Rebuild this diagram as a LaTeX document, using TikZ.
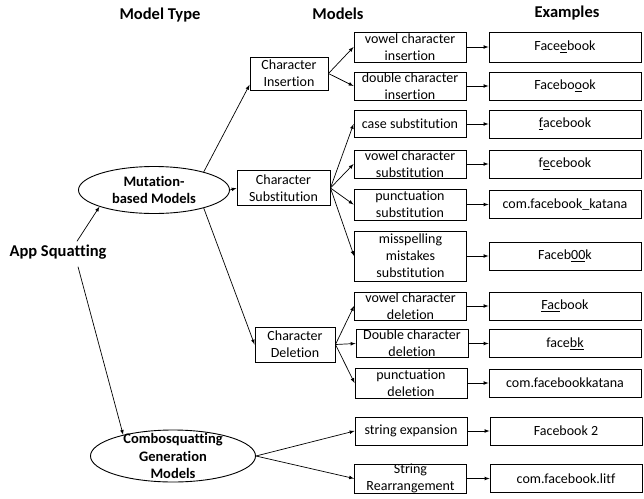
\documentclass[tikz,border=0pt]{standalone}
\usepackage{fontspec}
\setmainfont[Ligatures={NoCommon}]{Carlito}
\usepackage{tikz}
\usetikzlibrary{positioning, calc, shapes.geometric}

\begin{document}
\begin{tikzpicture}[x=1pt, y=-1pt,
	heading/.style={font=\fontsize{16.5}{19}\selectfont\bfseries},
	cell/.style={rectangle, draw, line width=0.9pt, align=center,
		font=\fontsize{14}{17}\selectfont, inner xsep=4pt, inner ysep=1pt},
	leaf/.style={cell, minimum width=112pt, minimum height=28pt},
	sample/.style={cell, minimum width=152pt, minimum height=28pt},
	group/.style={ellipse, draw, line width=0.9pt, inner sep=0pt},
	grouptext/.style={align=center, font=\fontsize{14.5}{17.5}\selectfont\bfseries},
	arr/.style={line width=0.7pt, -latex}
	]
	\useasboundingbox (0,0) rectangle (644,498);

	% column titles
	\node[heading] (hType) at (160,15) {Model Type};
	\node[heading] (hModels) at (338,14) {Models};
	\node[heading] (hExamples) at (567,13) {Examples};

	% model types
	\node[heading] (app) at (58,252) {App Squatting};
	\node[group, minimum width=151pt, minimum height=47pt,
		label={[grouptext]center:{Mutation-\\based Models}}] (mut) at (154,190) {};
	\node[group, minimum width=165pt, minimum height=52pt,
		label={[grouptext]center:{Combosquatting\\Generation\\Models}}] (combo) at (173,456) {};

	% first level
	\node[cell, minimum width=78pt, minimum height=33pt] (ins) at (289,73.5) {Character\\Insertion};
	\node[cell, minimum width=93pt, minimum height=35pt] (sub) at (283.5,188) {Character\\Substitution};
	\node[cell, minimum width=80pt, minimum height=35pt] (del) at (295,344.5) {Character\\Deletion};

	% models
	\node[leaf, minimum height=30pt] (vIns) at (410,47) {vowel character\\insertion};
	\node[leaf, inner ysep=-1pt] (dIns) at (410,86) {double character\\insertion};
	\node[leaf, minimum height=27pt] (cSub) at (410,124) {case substitution};
	\node[leaf, inner ysep=0pt] (vSub) at (410,164) {vowel character\\substitution};
	\node[leaf, minimum height=31pt] (pSub) at (410,204.5) {punctuation\\substitution};
	\node[leaf, minimum height=50pt] (mSub) at (410.5,256) {misspelling\\mistakes\\substitution};
	\node[leaf, inner ysep=0pt] (vDel) at (410.5,306) {vowel character\\deletion};
	\node[leaf, inner ysep=-1pt] (dDel) at (412,343.5) {Double character\\deletion};
	\node[leaf, minimum height=30pt] (pDel) at (411,383) {punctuation\\deletion};
	\node[leaf] (sExp) at (411,431) {string expansion};
	\node[leaf, inner ysep=0pt] (sRea) at (410.5,478.5) {String\\Rearrangement};

	% examples
	\node[sample, minimum height=30pt] (eVIns) at (565,47) {Face\underline{e}book};
	\node[sample] (eDIns) at (565,86) {Facebo\underline{o}ok};
	\node[sample] (eCSub) at (565,124) {\underline{f}acebook};
	\node[sample] (eVSub) at (565,164) {f\underline{e}cebook};
	\node[sample] (ePSub) at (565,204.5) {com.facebook\_katana};
	\node[sample] (eMSub) at (565,256) {Faceb\underline{00}k};
	\node[sample] (eVDel) at (565,306) {\underline{Fac}book};
	\node[sample] (eDDel) at (565,343.5) {face\underline{bk}};
	\node[sample] (ePDel) at (565,383) {com.facebookkatana};
	\node[sample] (eSExp) at (566,431) {Facebook 2};
	\node[sample] (eSRea) at (566,478.5) {com.facebook.litf};

	% tree
	\draw[arr] ([xshift=19pt]app.north) -- (mut.197);
	\draw[arr] ([xshift=20pt,yshift=-4pt]app.south) -- (combo.157);
	\draw[arr] (mut.20) -- (ins.196);
	\draw[arr] (mut.east) -- (sub.west);
	\draw[arr] (mut.-20) -- (del.west);

	\draw[arr] (ins.east) -- (vIns.west);
	\draw[arr] (ins.east) -- (dIns.west);
	\draw[arr] (sub.east) -- (cSub.west);
	\draw[arr] (sub.east) -- (vSub.west);
	\draw[arr] (sub.east) -- (pSub.west);
	\draw[arr] (sub.east) -- (mSub.west);
	\draw[arr] (del.east) -- (vDel.west);
	\draw[arr] (del.east) -- (dDel.west);
	\draw[arr] (del.east) -- (pDel.west);
	\draw[arr] (combo.east) -- (sExp.west);
	\draw[arr] (combo.east) -- (sRea.west);

	% models to examples
	\draw[arr] (vIns.east) -- (eVIns.west);
	\draw[arr] (dIns.east) -- (eDIns.west);
	\draw[arr] (cSub.east) -- (eCSub.west);
	\draw[arr] (vSub.east) -- (eVSub.west);
	\draw[arr] (pSub.east) -- (ePSub.west);
	\draw[arr] (mSub.east) -- (eMSub.west);
	\draw[arr] (vDel.east) -- (eVDel.west);
	\draw[arr] (dDel.east) -- (eDDel.west);
	\draw[arr] (pDel.east) -- (ePDel.west);
	\draw[arr] (sExp.east) -- (eSExp.west);
	\draw[arr] (sRea.east) -- (eSRea.west);
\end{tikzpicture}
\end{document}
